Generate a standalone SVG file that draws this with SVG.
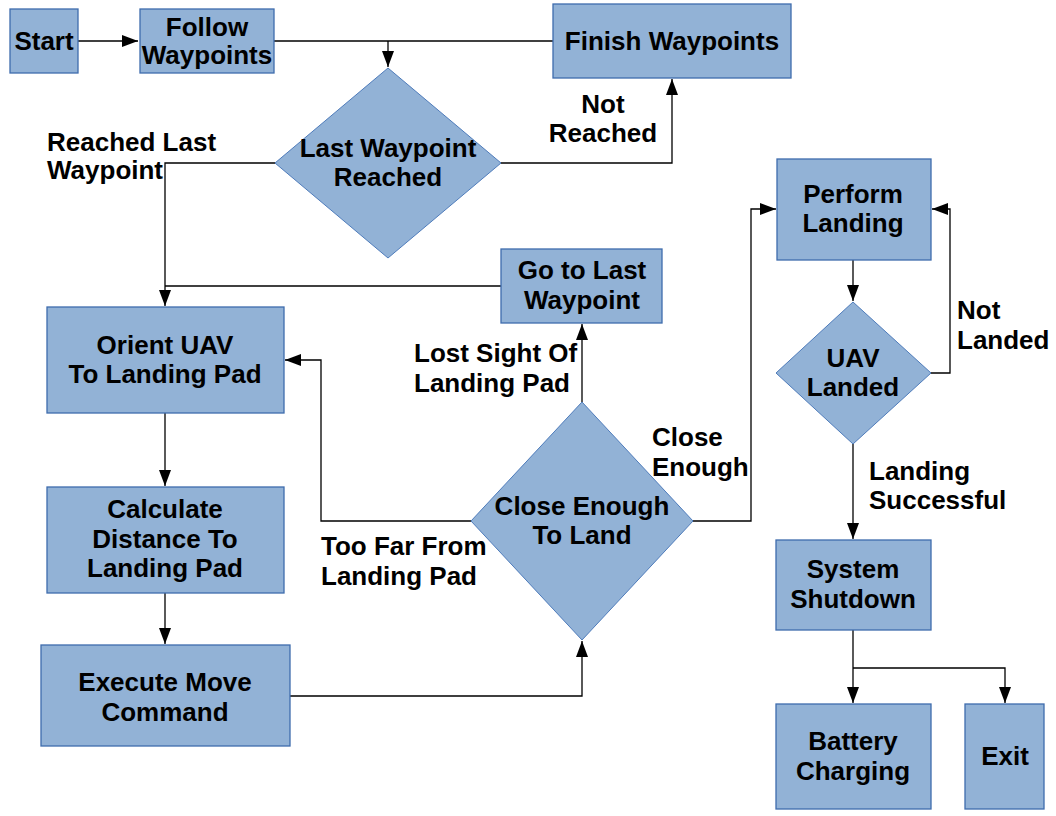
<svg xmlns="http://www.w3.org/2000/svg" width="1056" height="816" viewBox="0 0 1056 816">
<defs>
<marker id="arr" markerUnits="userSpaceOnUse" markerWidth="17" markerHeight="12" refX="16" refY="6" orient="auto">
<path d="M0,0 L16,6 L0,12 Z" fill="#000"/>
</marker>
<style>
.box{fill:#92b2d6;stroke:#3e6cad;stroke-width:1.3}
.dia{fill:#92b2d6;stroke:#4f7cbb;stroke-width:1}
.t{font-family:"Liberation Sans",Arial,sans-serif;font-weight:bold;font-size:26px;fill:#000}
.c{text-anchor:middle}
.ln{fill:none;stroke:#000;stroke-width:1.3}
.ar{marker-end:url(#arr)}
</style>
</defs>
<rect width="1056" height="816" fill="#fff"/>
<g id="connectors">
<path class="ln ar" d="M78,41 H138"/>
<path class="ln" d="M274,41 H553"/>
<path class="ln ar" d="M388,41 V67"/>
<path class="ln ar" d="M501,163 H672 V79"/>
<path class="ln ar" d="M275,163 H165 V306"/>
<path class="ln" d="M501,286 H165"/>
<path class="ln ar" d="M165,413 V486"/>
<path class="ln ar" d="M165,593 V644"/>
<path class="ln ar" d="M290,696 H582 V641"/>
<path class="ln ar" d="M582,402 V324"/>
<path class="ln ar" d="M471,521 H321 V360 H285"/>
<path class="ln ar" d="M693,521 H751 V209 H776"/>
<path class="ln ar" d="M853,260 V301"/>
<path class="ln ar" d="M931,373 H950 V209 H932"/>
<path class="ln ar" d="M853,444 V539"/>
<path class="ln ar" d="M853,630 V703"/>
<path class="ln ar" d="M853,668 H1005 V703"/>
<text class="t" x="47" y="151">Reached Last</text>
<text class="t" x="47" y="179">Waypoint</text>
<text class="t c" x="603" y="113">Not</text>
<text class="t c" x="603" y="142">Reached</text>
<text class="t" x="414" y="362">Lost Sight Of</text>
<text class="t" x="414" y="392">Landing Pad</text>
<text class="t" x="652" y="446">Close</text>
<text class="t" x="652" y="476">Enough</text>
<text class="t" x="321" y="555">Too Far From</text>
<text class="t" x="321" y="585">Landing Pad</text>
<text class="t" x="957" y="319">Not</text>
<text class="t" x="957" y="349">Landed</text>
<text class="t" x="869" y="480">Landing</text>
<text class="t" x="869" y="509">Successful</text>
</g>
<g id="start">
<rect class="box" x="10" y="9" width="68" height="64"/>
<text class="t c" x="44" y="50">Start</text>
</g>
<g id="follow">
<rect class="box" x="140" y="9" width="134" height="64"/>
<text class="t c" x="207" y="36">Follow</text>
<text class="t c" x="207" y="64">Waypoints</text>
</g>
<g id="finish">
<rect class="box" x="553" y="4" width="238" height="74"/>
<text class="t c" x="672" y="50">Finish Waypoints</text>
</g>
<g id="lastwp">
<polygon class="dia" points="388,68 501,163 388,258 275,163"/>
<text class="t c" x="388" y="157">Last Waypoint</text>
<text class="t c" x="388" y="186">Reached</text>
</g>
<g id="golast">
<rect class="box" x="501" y="249" width="161" height="74"/>
<text class="t c" x="582" y="279">Go to Last</text>
<text class="t c" x="582" y="309">Waypoint</text>
</g>
<g id="orient">
<rect class="box" x="47" y="307" width="237" height="106"/>
<text class="t c" x="165" y="354">Orient UAV</text>
<text class="t c" x="165" y="383">To Landing Pad</text>
</g>
<g id="calc">
<rect class="box" x="47" y="487" width="237" height="106"/>
<text class="t c" x="165" y="518">Calculate</text>
<text class="t c" x="165" y="548">Distance To</text>
<text class="t c" x="165" y="577">Landing Pad</text>
</g>
<g id="execute">
<rect class="box" x="41" y="645" width="249" height="101"/>
<text class="t c" x="165" y="691">Execute Move</text>
<text class="t c" x="165" y="721">Command</text>
</g>
<g id="closeenough">
<polygon class="dia" points="582,402 693,521 582,640 471,521"/>
<text class="t c" x="582" y="515">Close Enough</text>
<text class="t c" x="582" y="544">To Land</text>
</g>
<g id="perform">
<rect class="box" x="777" y="159" width="154" height="101"/>
<text class="t c" x="853" y="203">Perform</text>
<text class="t c" x="853" y="232">Landing</text>
</g>
<g id="landed">
<polygon class="dia" points="853,302 931,373 853,444 776,373"/>
<text class="t c" x="853" y="367">UAV</text>
<text class="t c" x="853" y="396">Landed</text>
</g>
<g id="shutdown">
<rect class="box" x="776" y="540" width="155" height="90"/>
<text class="t c" x="853" y="578">System</text>
<text class="t c" x="853" y="608">Shutdown</text>
</g>
<g id="battery">
<rect class="box" x="776" y="704" width="155" height="105"/>
<text class="t c" x="853" y="750">Battery</text>
<text class="t c" x="853" y="780">Charging</text>
</g>
<g id="exit">
<rect class="box" x="965" y="704" width="79" height="105"/>
<text class="t c" x="1005" y="765">Exit</text>
</g>
</svg>
